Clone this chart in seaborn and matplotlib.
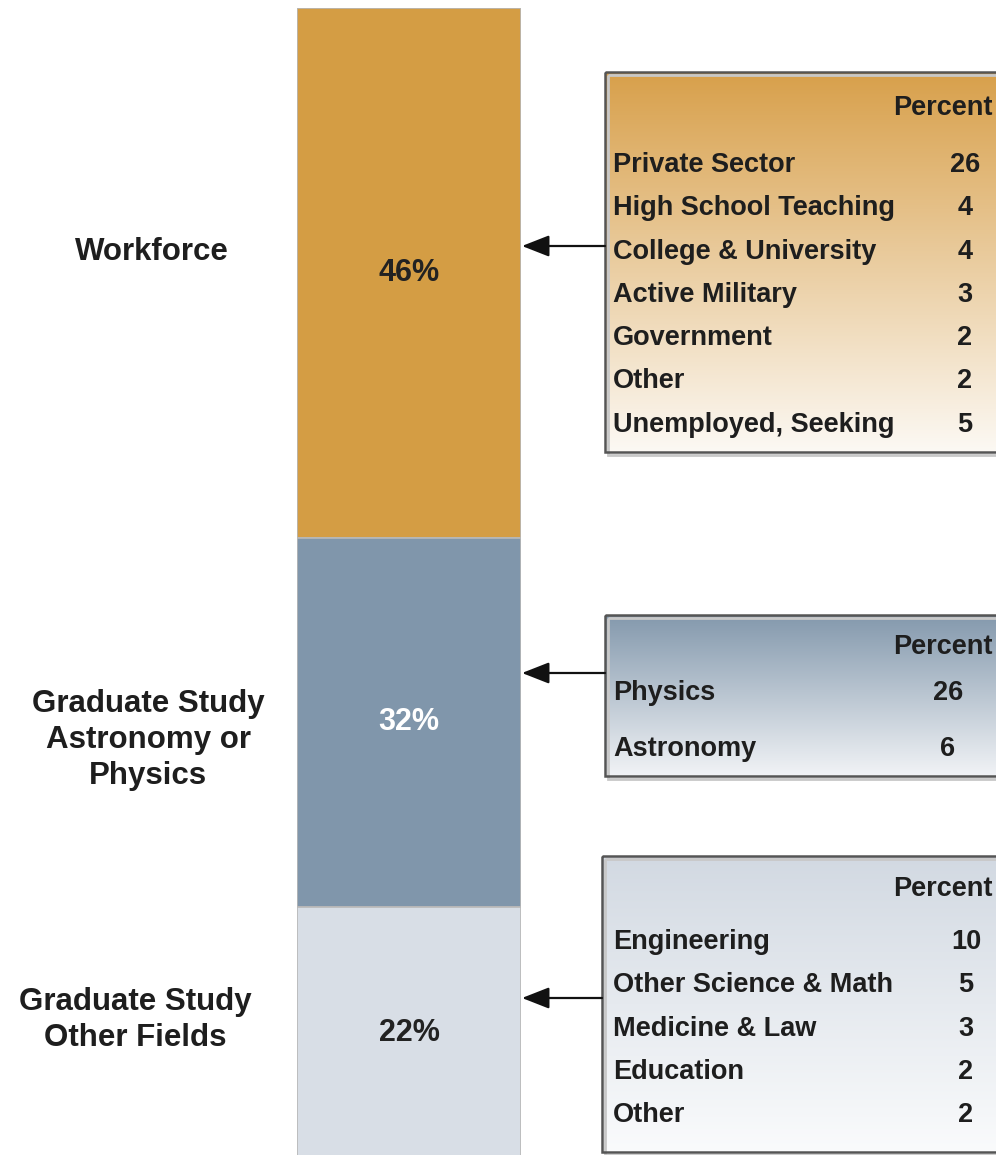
import numpy as np
import matplotlib
matplotlib.use("Agg")
import matplotlib.pyplot as plt
import seaborn as sns
from matplotlib.patches import Rectangle
from matplotlib.colors import LinearSegmentedColormap

# ---------------- data ----------------
segments = ["Workforce", "Graduate Study\nAstronomy or\nPhysics", "Graduate Study\nOther Fields"]
segment_pct = [46, 32, 22]

workforce_labels = ["Private Sector", "High School Teaching", "College & University",
                    "Active Military", "Government", "Other", "Unemployed, Seeking"]
workforce_vals = [26, 4, 4, 3, 2, 2, 5]

grad_phys_labels = ["Physics", "Astronomy"]
grad_phys_vals = [26, 6]

grad_other_labels = ["Engineering", "Other Science & Math", "Medicine & Law", "Education", "Other"]
grad_other_vals = [10, 5, 3, 2, 2]

# ---------------- style ----------------
sns.set_theme(style="white")
plt.rcParams['font.family'] = ['Liberation Sans', 'DejaVu Sans']
plt.rcParams['font.weight'] = 'bold'

seg_colors = ["#D49D44", "#8096AB", "#D8DEE6"]
pct_text_colors = ["#222222", "#FFFFFF", "#222222"]
grad_tops = ["#D8A04B", "#8499AD", "#D2D9E2"]
grad_bottoms = ["#FCF9F4", "#F1F3F6", "#FAFBFC"]
txt = "#1E1E1E"

W, H = 996, 1155
fig = plt.figure(figsize=(W / 100, H / 100), dpi=100)
fig.patch.set_facecolor("white")

# overlay axes in pixel coordinates for annotations
ov = fig.add_axes([0, 0, 1, 1])
ov.set_xlim(0, W)
ov.set_ylim(H, 0)
ov.axis("off")

# bar axes
bar_top, bar_bot = 8, 1160
bx0, bx1 = 297, 521
bax = fig.add_axes([bx0 / W, (H - bar_bot) / H, (bx1 - bx0) / W, (bar_bot - bar_top) / H])
bottoms = np.concatenate([[0], np.cumsum(segment_pct)[:-1]])
for i, (v, b) in enumerate(zip(segment_pct, bottoms)):
    sns.barplot(x=[0], y=[v], bottom=b, color=seg_colors[i], width=1.0, ax=bax,
                edgecolor="#B8B8B8", linewidth=1.2, saturation=1)
    bax.text(0, b + v / 2, f"{v}%", ha="center", va="center", fontsize=22,
             fontweight="bold", color=pct_text_colors[i])
bax.set_xlim(-0.5, 0.5)
bax.set_ylim(100, 0)
bax.axis("off")

# left labels
left_label_pos = [(152, 252), (148, 740), (135, 1020)]
for lab, (x, y) in zip(segments, left_label_pos):
    ov.text(x, y, lab, ha="center", va="center", fontsize=22.5, fontweight="bold",
            color=txt, linespacing=1.25, multialignment="center")

# boxes
boxes = [
    dict(x0=605, y0=72, y1=452, arrow_y=246, pct_y=108, row0=165, step=43.3,
         labels=workforce_labels, vals=workforce_vals, num_x=965, lab_x=613),
    dict(x0=605, y0=615, y1=776, arrow_y=673, pct_y=647, row0=693, step=56,
         labels=grad_phys_labels, vals=grad_phys_vals, num_x=948, lab_x=613),
    dict(x0=602, y0=856, y1=1152, arrow_y=998, pct_y=889, row0=942, step=43.3,
         labels=grad_other_labels, vals=grad_other_vals, num_x=966, lab_x=613),
]
x1 = 1005
for i, bxd in enumerate(boxes):
    cmap = LinearSegmentedColormap.from_list(f"g{i}", [grad_tops[i], grad_bottoms[i]])
    grad = np.linspace(0, 1, 256).reshape(-1, 1)
    ov.imshow(grad, cmap=cmap, aspect="auto",
              extent=[bxd["x0"], x1, bxd["y1"], bxd["y0"]], zorder=1, interpolation="bilinear")
    # shadow
    ov.add_patch(Rectangle((bxd["x0"] + 3, bxd["y0"] + 3), x1 - bxd["x0"], bxd["y1"] - bxd["y0"],
                           facecolor="none", edgecolor="#C8C8C8", lw=2, zorder=1.5))
    ov.add_patch(Rectangle((bxd["x0"], bxd["y0"]), x1 - bxd["x0"], bxd["y1"] - bxd["y0"],
                           facecolor="none", edgecolor="#555555", lw=1.8, zorder=2))
    ov.text(993, bxd["pct_y"], "Percent", ha="right", va="center", fontsize=19.5,
            fontweight="bold", color=txt, zorder=3)
    for j, (lab, v) in enumerate(zip(bxd["labels"], bxd["vals"])):
        y = bxd["row0"] + j * bxd["step"]
        ov.text(bxd["lab_x"], y, lab, ha="left", va="center", fontsize=19.5,
                fontweight="bold", color=txt, zorder=3)
        ov.text(bxd["num_x"], y, str(v), ha="center", va="center", fontsize=19.5,
                fontweight="bold", color=txt, zorder=3)
    ov.annotate("", xy=(bx1 + 1, bxd["arrow_y"]), xytext=(bxd["x0"], bxd["arrow_y"]),
                arrowprops=dict(arrowstyle="-|>,head_length=1.4,head_width=0.55",
                                color="#111111", lw=1.6, shrinkA=0, shrinkB=0), zorder=3)

ov.set_xlim(0, W)
ov.set_ylim(H, 0)

fig.savefig("out.png", dpi=100, facecolor="white")
